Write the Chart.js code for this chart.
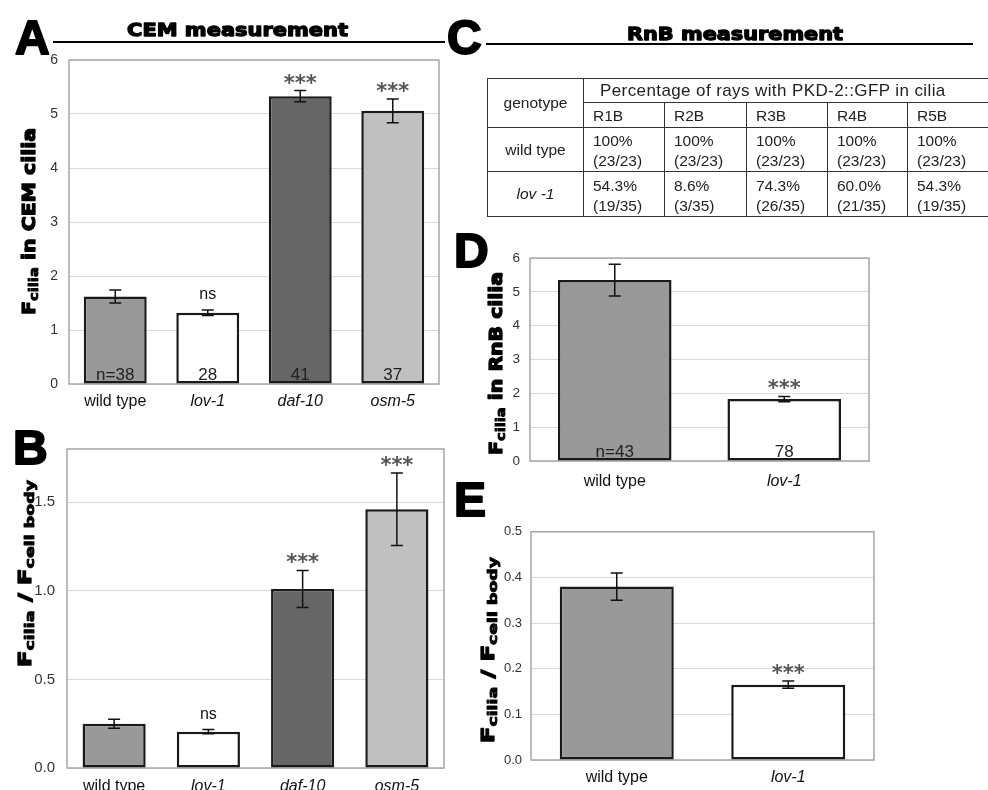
<!DOCTYPE html>
<html>
<head>
<meta charset="utf-8">
<title>CEM / RnB measurement</title>
<script src="https://cdn.jsdelivr.net/npm/chart.js"></script>
<style>
  body { margin: 0; background: #fff; width: 988px; height: 790px; position: relative; overflow: hidden;
         font-family: "Liberation Sans", Arial, sans-serif; }
  canvas { position: absolute; }
  #rays { position: absolute; left: 487px; top: 78px; border-collapse: collapse; table-layout: fixed;
          color: #222; font-size: 15.5px; width: 501px; }
  #rays td { border: 1.5px solid #333; padding: 3px 0 0 9px; line-height: 20px; vertical-align: middle; }
  #rays td.c { text-align: center; padding: 0; }
  #rayTitle { font-size: 17px; letter-spacing: 0.4px; padding: 0 0 0 16px !important; }
</style>
</head>
<body>
  <canvas id="overlay" width="988" height="790" style="left:0;top:0"></canvas>
  <canvas id="chartA"></canvas>
  <canvas id="chartB"></canvas>
  <canvas id="chartD"></canvas>
  <canvas id="chartE"></canvas>

  <table id="rays">
    <colgroup>
      <col style="width:96px"><col style="width:81px"><col style="width:82px">
      <col style="width:81px"><col style="width:80px"><col style="width:81px">
    </colgroup>
    <tr style="height:24px"><td rowspan="2" class="c">genotype</td><td colspan="5" id="rayTitle"></td></tr>
    <tr id="rayHead" style="height:25px"></tr>
    <tr id="rowWild" style="height:44px"><td class="c">wild type</td></tr>
    <tr id="rowLov" style="height:45px"><td class="c"><i>lov -1</i></td></tr>
  </table>

<script>
  // ---- data: CEM panels (A, B)
  const cemGenotypes = ['wild type', 'lov-1', 'daf-10', 'osm-5'];
  const cemColors = ['#999999', '#ffffff', '#666666', '#c0c0c0'];
  const cemCilia = [1.62, 1.32, 5.33, 5.06];
  const cemCiliaErr = [0.12, 0.05, 0.105, 0.22];
  const cemCiliaSig = ['', 'ns', '***', '***'];
  const cemN = ['n=38', '28', '41', '37'];
  const cemRatio = [0.25, 0.205, 1.01, 1.46];
  const cemRatioErr = [0.025, 0.012, 0.105, 0.205];
  const cemRatioSig = ['', 'ns', '***', '***'];

  // ---- data: RnB panels (D, E)
  const rnbGenotypes = ['wild type', 'lov-1'];
  const rnbColors = ['#999999', '#ffffff'];
  const rnbCilia = [5.35, 1.83];
  const rnbCiliaErr = [0.47, 0.08];
  const rnbN = ['n=43', '78'];
  const rnbRatio = [0.38, 0.165];
  const rnbRatioErr = [0.03, 0.008];
  const rnbSig = ['', '***'];

  // ---- data: table C
  const rayTitle = 'Percentage of rays with PKD-2::GFP in cilia';
  const rayNames = ['R1B', 'R2B', 'R3B', 'R4B', 'R5B'];
  const rayWildPct = ['100%', '100%', '100%', '100%', '100%'];
  const rayWildN = ['(23/23)', '(23/23)', '(23/23)', '(23/23)', '(23/23)'];
  const rayLovPct = ['54.3%', '8.6%', '74.3%', '60.0%', '54.3%'];
  const rayLovN = ['(19/35)', '(3/35)', '(26/35)', '(21/35)', '(19/35)'];

  // table
  document.getElementById('rayTitle').textContent = rayTitle;
  rayNames.forEach(r => {
    const td = document.createElement('td'); td.textContent = r;
    td.style.paddingTop = '2px';
    document.getElementById('rayHead').appendChild(td);
  });
  rayWildPct.forEach((p, i) => {
    const td = document.createElement('td'); td.innerHTML = p + '<br>' + rayWildN[i];
    document.getElementById('rowWild').appendChild(td);
  });
  rayLovPct.forEach((p, i) => {
    const td = document.createElement('td'); td.innerHTML = p + '<br>' + rayLovN[i];
    document.getElementById('rowLov').appendChild(td);
  });

  // grey frame round the plot area
  const framePlugin = {
    id: 'frame',
    beforeDatasetsDraw(chart) {
      const a = chart.chartArea, ctx = chart.ctx;
      ctx.save();
      ctx.strokeStyle = '#a6a6a6';
      ctx.lineWidth = 1.5;
      ctx.strokeRect(a.left, a.top, a.right - a.left, a.bottom - a.top);
      ctx.restore();
    }
  };

  // error bars, significance marks and n labels
  const errPlugin = {
    id: 'errs',
    afterDatasetsDraw(chart, args, o) {
      const ctx = chart.ctx, y = chart.scales.y;
      const vals = chart.data.datasets[0].data;
      ctx.save();
      ctx.textAlign = 'center';
      chart.getDatasetMeta(0).data.forEach((bar, i) => {
        const top = y.getPixelForValue(vals[i] + o.errors[i]);
        const bot = y.getPixelForValue(vals[i] - o.errors[i]);
        ctx.strokeStyle = '#111';
        ctx.lineWidth = 1.5;
        ctx.beginPath();
        ctx.moveTo(bar.x, top); ctx.lineTo(bar.x, bot);
        ctx.moveTo(bar.x - 6, top); ctx.lineTo(bar.x + 6, top);
        ctx.moveTo(bar.x - 6, bot); ctx.lineTo(bar.x + 6, bot);
        ctx.stroke();
        const s = o.sig[i];
        if (s === '***') {
          ctx.font = 'bold 21px "DejaVu Sans"';
          ctx.fillStyle = '#555';
          ctx.fillText(s, bar.x, top - 1);
        } else if (s) {
          ctx.font = '16px "Liberation Sans"';
          ctx.fillStyle = '#111';
          ctx.fillText(s, bar.x, top - 11);
        }
        if (o.n) {
          ctx.font = '17px "Liberation Sans"';
          ctx.fillStyle = '#222';
          ctx.fillText(o.n[i], bar.x, y.getPixelForValue(0) - 4);
        }
      });
      ctx.restore();
    }
  };

  // pos = canvas box on the page, area = plot area on the page
  function makeChart(id, pos, area, labels, values, colors, opt) {
    const cv = document.getElementById(id);
    cv.style.left = pos.x + 'px';
    cv.style.top = pos.y + 'px';
    cv.width = pos.w;
    cv.height = pos.h;
    return new Chart(cv, {
      type: 'bar',
      data: {
        labels: labels,
        datasets: [{
          data: values,
          backgroundColor: colors,
          borderColor: '#1a1a1a',
          borderWidth: 2.5,
          borderSkipped: false,
          barPercentage: opt.barPct,
          categoryPercentage: 1
        }]
      },
      options: {
        responsive: false,
        animation: false,
        layout: { padding: { left: 0, bottom: 0, top: area.t - pos.y, right: pos.x + pos.w - area.r } },
        plugins: {
          legend: { display: false },
          tooltip: { enabled: false },
          errs: { errors: opt.errors, sig: opt.sig, n: opt.n }
        },
        scales: {
          x: {
            grid: { display: false, drawTicks: false },
            border: { display: false },
            ticks: {
              color: '#111',
              padding: opt.xPad,
              maxRotation: 0,
              font: c => ({ family: 'Liberation Sans', size: 16, style: c.index === 0 ? 'normal' : 'italic' })
            },
            afterFit: s => { s.height = pos.y + pos.h - area.b; }
          },
          y: {
            min: 0,
            max: opt.max,
            grid: { color: '#d9d9d9', drawTicks: false },
            border: { display: false },
            ticks: {
              stepSize: opt.step,
              includeBounds: false,
              color: '#333',
              padding: opt.yPad,
              font: { family: 'Liberation Sans', size: opt.tickSize },
              callback: opt.fmt
            },
            afterFit: s => { s.width = area.l - pos.x; }
          }
        }
      },
      plugins: [framePlugin, errPlugin]
    });
  }

  const oneDec = v => v.toFixed(1);

  makeChart('chartA', { x: 0, y: 40, w: 470, h: 380 }, { l: 69, t: 60, r: 439, b: 384 },
    cemGenotypes, cemCilia, cemColors,
    { barPct: 0.68, max: 6, step: 1, tickSize: 14, xPad: 8, yPad: 11, fmt: v => v,
      errors: cemCiliaErr, sig: cemCiliaSig, n: cemN });

  makeChart('chartB', { x: 0, y: 420, w: 470, h: 370 }, { l: 67, t: 449, r: 444, b: 768 },
    cemGenotypes, cemRatio, cemColors,
    { barPct: 0.67, max: 1.8, step: 0.5, tickSize: 15, xPad: 9, yPad: 12, fmt: oneDec,
      errors: cemRatioErr, sig: cemRatioSig, n: null });

  makeChart('chartD', { x: 500, y: 240, w: 400, h: 260 }, { l: 530, t: 257, r: 869, b: 461 },
    rnbGenotypes, rnbCilia, rnbColors,
    { barPct: 0.67, max: 6, step: 1, tickSize: 13.5, xPad: 11, yPad: 10, fmt: v => v,
      errors: rnbCiliaErr, sig: rnbSig, n: rnbN });

  makeChart('chartE', { x: 500, y: 515, w: 400, h: 275 }, { l: 531, t: 529, r: 874, b: 760 },
    rnbGenotypes, rnbRatio, rnbColors,
    { barPct: 0.665, max: 0.5, step: 0.1, tickSize: 13, xPad: 8, yPad: 9, fmt: oneDec,
      errors: rnbRatioErr, sig: rnbSig, n: null });

  // ---- static text: panel letters, headers, y titles
  const ov = document.getElementById('overlay').getContext('2d');
  ov.fillStyle = '#000';
  ov.strokeStyle = '#000';
  ov.lineWidth = 2;
  ov.lineJoin = 'round';
  ov.font = 'bold 48px "Liberation Sans"';
  [['A', 15, 54], ['B', 13, 464], ['C', 447, 54], ['D', 454, 267], ['E', 454, 516]].forEach(l => {
    ov.fillText(l[0], l[1], l[2]);
    ov.strokeText(l[0], l[1], l[2]);
  });

  // draw a run of text parts stretched to a target length; rot = rotate -90deg
  function wideText(parts, cx, base, len, rot) {
    ov.save();
    ov.fillStyle = '#000';
    ov.strokeStyle = '#000';
    ov.lineJoin = 'round';
    let total = 0;
    parts.forEach(p => { ov.font = 'bold ' + p.size + 'px "DejaVu Sans"'; p.w = ov.measureText(p.t).width; total += p.w; });
    if (rot) { ov.translate(base, cx); ov.rotate(-Math.PI / 2); }
    else { ov.translate(cx, base); }
    ov.scale(len / total, 1);
    let x = -total / 2;
    parts.forEach(p => {
      ov.font = 'bold ' + p.size + 'px "DejaVu Sans"';
      ov.lineWidth = p.size > 15 ? 1.3 : 0.9;
      ov.fillText(p.t, x, p.dy || 0);
      ov.strokeText(p.t, x, p.dy || 0);
      x += p.w;
    });
    ov.restore();
  }

  wideText([{ t: 'CEM measurement', size: 18 }], 237.5, 36, 221, false);
  wideText([{ t: 'RnB measurement', size: 18 }], 735, 39.5, 216, false);

  ov.fillRect(53, 41, 392, 2);
  ov.fillRect(486, 43, 487, 2);

  const ciliaTitle = rest => [{ t: 'F', size: 18 }, { t: 'cilia', size: 13, dy: 3 }, { t: rest, size: 18 }];
  const ratioTitle = [{ t: 'F', size: 18 }, { t: 'cilia', size: 13, dy: 3 }, { t: ' / F', size: 18 },
                      { t: 'cell body', size: 13, dy: 3 }];
  wideText(ciliaTitle(' in CEM cilia'), 221.5, 35, 187, true);
  wideText(ratioTitle, 573.5, 31, 187, true);
  wideText(ciliaTitle(' in RnB cilia'), 363.5, 502, 183, true);
  wideText(ratioTitle, 650, 494, 186, true);
</script>
</body>
</html>
